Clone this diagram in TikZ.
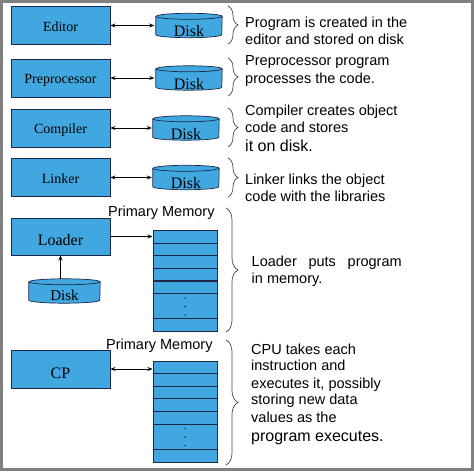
\documentclass[tikz,border=0pt]{standalone}
\usepackage{fontspec}
\setmainfont{Liberation Serif}
\newfontfamily\arialfont{Liberation Sans}
\usetikzlibrary{arrows.meta,decorations.pathreplacing,calc}
\definecolor{boxblue}{RGB}{65,167,224}
\definecolor{boxline}{RGB}{28,40,70}
\definecolor{framegray}{RGB}{128,128,128}
\definecolor{bracegray}{RGB}{70,70,70}
\newcommand\drawdisk[3]{%
  \path[diskbody] ([yshift=-#3pt]#1.north west) -- ([yshift=#3pt]#1.south west)
    arc[start angle=180,end angle=360,x radius=#2pt,y radius=#3pt]
    -- ([yshift=-#3pt]#1.north east)
    arc[start angle=0,end angle=180,x radius=#2pt,y radius=#3pt] -- cycle;
  \draw[diskbody,fill=none] ([yshift=-#3pt]#1.north west)
    arc[start angle=180,end angle=360,x radius=#2pt,y radius=#3pt];}
\begin{document}
\begin{tikzpicture}[x=1pt,y=1pt,
  procbox/.style={draw=boxline, fill=boxblue, line width=0.9pt, minimum width=99pt, minimum height=38pt, inner sep=0pt, text height=11.6pt, text depth=0pt, font=\fontsize{14}{16}\selectfont},
  diskbody/.style={fill=boxblue, draw=boxline, line width=0.7pt},
  diskarea/.style={inner sep=0pt, minimum height=24pt},
  disklabel/.style={inner sep=0pt, anchor=base, font=\fontsize{16}{18}\selectfont},
  memcol/.style={draw=boxline, fill=boxblue, line width=1pt, minimum width=64pt, minimum height=101pt, inner sep=0pt},
  rowline/.style={draw=boxline, line width=1.2pt},
  link/.style={line width=0.8pt, black},
  dblarrow/.style={link, {Stealth[length=5pt,width=4pt]}-{Stealth[length=5pt,width=4pt]}},
  onearrow/.style={link, -{Stealth[length=5pt,width=4pt]}},
  curly/.style={draw=bracegray, line width=0.7pt, decorate, decoration={brace, amplitude=#1}},
  curly/.default=10pt,
  note/.style={anchor=base west, inner sep=0pt, font=\arialfont\fontsize{14.5}{17}\selectfont},
  bignote/.style={anchor=base west, inner sep=0pt, font=\arialfont\fontsize{16}{18}\selectfont},
]
\useasboundingbox (0,0) rectangle (474,474);
\fill[white] (0,0) rectangle (474,474);
\draw[framegray, line width=3pt] (1.5,4.5) rectangle (472.5,472.5);

% process boxes
\node[procbox] (ed) at (60.5,448.5) {Editor};
\node[procbox] (pp) at (60.5,396) {Preprocessor};
\node[procbox] (cm) at (60.5,346) {Compiler};
\node[procbox] (lk) at (60.5,296.5) {Linker};
\node[procbox, minimum height=37pt, text height=18pt, font=\fontsize{16}{18}\selectfont] (ld) at (60.5,237.5) {Loader};
\node[procbox, text height=20pt, font=\fontsize{16}{18}\selectfont] (cp) at (60.5,105) {CP};

% disks
\node[diskarea, minimum width=66pt] (d1) at (189,448.5) {};
\node[diskarea, minimum width=66pt] (d2) at (189,396) {};
\node[diskarea, minimum width=66pt] (d3) at (186,346) {};
\node[diskarea, minimum width=66pt] (d4) at (186,296.5) {};
\node[diskarea, minimum width=71pt] (d5) at (64.5,183) {};
\drawdisk{d1}{33}{3}
\drawdisk{d2}{33}{3}
\drawdisk{d3}{33}{3}
\drawdisk{d4}{33}{3}
\drawdisk{d5}{35.5}{3}
\node[disklabel] (l1) at ([yshift=1pt]d1.south) {Disk};
\node[disklabel] (l2) at ([yshift=1pt]d2.south) {Disk};
\node[disklabel] (l3) at ([yshift=1pt]d3.south) {Disk};
\node[disklabel] (l4) at ([yshift=1pt]d4.south) {Disk};
\node[disklabel, font=\fontsize{15}{17}\selectfont] (l5) at ([yshift=3pt]d5.south) {Disk};

% memory columns
\node[memcol] (m1) at (185,192.5) {};
\node[memcol] (m2) at (185,62) {};
\foreach \m in {m1,m2}{
  \foreach \k in {1,2,3,4,5,7}
    \draw[rowline] ([yshift=-\k*12.625pt]\m.north west) -- ([yshift=-\k*12.625pt]\m.north east);
  \foreach \d in {67.6,76,84.6}
    \fill[boxline] ([yshift=-\d pt]\m.north) circle (0.8pt);
}
\node[note] (pm1) at (108,257.3) {Primary Memory};
\node[note] (pm2) at (106,124) {Primary Memory};

% connectors
\draw[dblarrow, shorten >=1.5pt] (ed.east) -- (d1.west);
\draw[dblarrow, shorten >=1.5pt] (pp.east) -- (d2.west);
\draw[dblarrow, shorten >=1pt] (cm.east) -- (d3.west);
\draw[dblarrow, shorten >=1pt] (lk.east) -- (d4.west);
\draw[onearrow] (ld.east) -- (ld.east -| m1.west);
\draw[onearrow] (ld.south |- d5.north) -- (ld.south);
\draw[dblarrow] (cp.east) -- (cp.east -| m2.west);

% braces
\draw[curly] (228,468) -- (228,430);
\draw[curly] (228,416) -- (228,378);
\draw[curly] (228,366) -- (228,327);
\draw[curly] (228,316) -- (228,277);
\draw[curly=12pt] (226,266) -- (226,142);
\draw[curly=12pt] (226,134) -- (226,9);

% notes
\node[note] (t1) at (245,446.7) {Program is created in the};
\node[note] (t2) at (245,429) {editor and stored on disk};
\node[note] (t3) at (245,408.3) {Preprocessor program};
\node[note] (t4) at (245,390.7) {processes the code.};
\node[note] (t5) at (245,358.3) {Compiler creates object};
\node[note] (t6) at (245,341.3) {code and stores};
\node[bignote] (t7) at (245,322.3) {it on disk.};
\node[note] (t8) at (245,289) {Linker links the object};
\node[note] (t9) at (245,272.3) {code with the libraries};
\node[note] (t10) at (251.5,207.3) {\makebox[150pt][s]{Loader puts program}};
\node[note] (t11) at (251.5,190.7) {in memory.};
\node[note] (t12) at (251,119.7) {CPU takes each};
\node[note] (t13) at (251,103.3) {instruction and};
\node[note] (t14) at (251,85.7) {executes it, possibly};
\node[note] (t15) at (251,69) {storing new data};
\node[note] (t16) at (251,51.3) {values as the};
\node[bignote] (t17) at (251,32.3) {program executes.};
\end{tikzpicture}
\end{document}
